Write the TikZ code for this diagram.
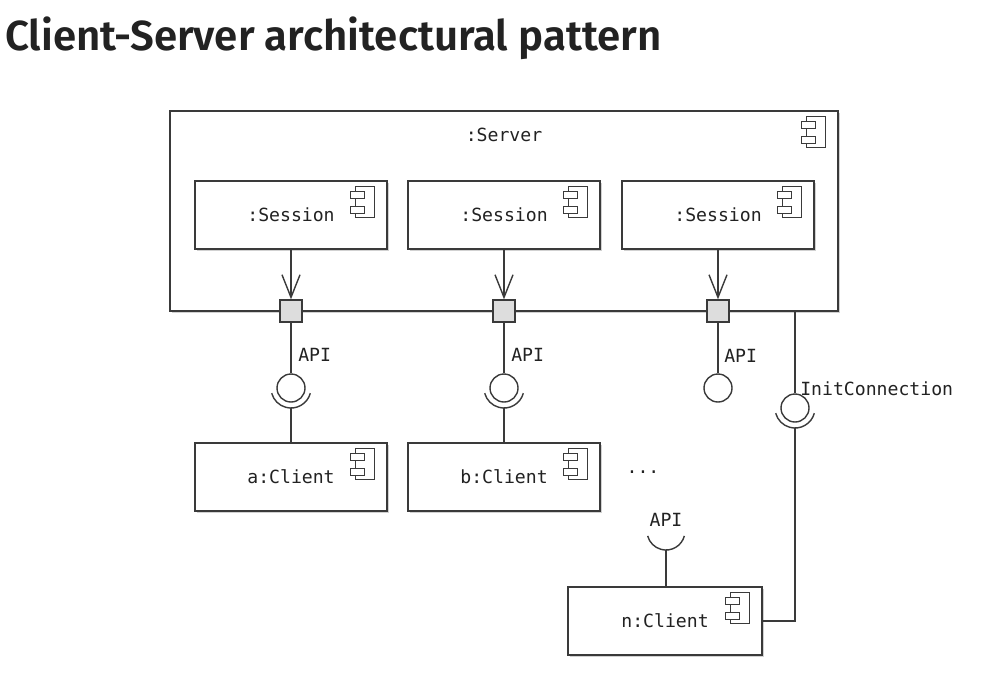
\documentclass[tikz,border=0pt]{standalone}
\usepackage{fontspec}
\usetikzlibrary{arrows.meta,shadows}
\newfontfamily\monofont{DejaVu Sans Mono}
\newfontfamily\titlefont{Fira Sans SemiBold}
\definecolor{linecol}{HTML}{3A3A3A}
\definecolor{txtcol}{HTML}{222222}
\definecolor{portfill}{HTML}{DDDDDD}
\tikzset{
  conn/.style={draw=linecol, line width=1.05pt},
  iconline/.style={draw=linecol, line width=0.8pt},
  comp/.style={draw=linecol, line width=1.05pt, fill=white, minimum width=144pt,
    minimum height=51pt, inner sep=0pt, font=\monofont\fontsize{13.6}{16}\selectfont, text=txtcol,
    general shadow={fill=black!18, shadow xshift=1.3pt, shadow yshift=-1.3pt}},
  frame/.style={draw=linecol, line width=1.05pt, fill=white, minimum width=501pt,
    minimum height=150pt, inner sep=0pt,
    general shadow={fill=black!18, shadow xshift=1.3pt, shadow yshift=-1.3pt}},
  port/.style={draw=linecol, line width=1.05pt, fill=portfill, minimum size=16.5pt, inner sep=0pt},
  ball/.style={circle, draw=linecol, line width=1.05pt, fill=white, minimum size=21pt, inner sep=0pt},
  lbl/.style={font=\monofont\fontsize{13.6}{16}\selectfont, text=txtcol, inner sep=0pt},
  dep/.style={conn, -{Straight Barb[length=17pt, width=13.5pt, line width=1.05pt]}},
  compicon/.pic={
    \draw[iconline, fill=white] (-19,0) rectangle (0,31);
    \draw[iconline, fill=white] (-24,5) rectangle (-10,12);
    \draw[iconline, fill=white] (-24,20) rectangle (-10,27);
  }
}
\begin{document}
\begin{tikzpicture}[x=0.75pt, y=-0.75pt]
\useasboundingbox[fill=white] (0,0) rectangle (1006,694);
% title
\node[anchor=base west, inner sep=0pt, text=txtcol, font=\titlefont\fontsize{31.5}{37}\selectfont] (title) at (5,50) {Client-Server architectural pattern};
% server
\node[frame] (server) at (504,211) {};
\node[lbl] (serverlbl) at (504,135) {:Server};
\pic at ([shift={(-13,6)}]server.north east) {compicon};
% sessions
\node[comp] (s1) at (291,215) {:Session};
\node[comp] (s2) at (504,215) {:Session};
\node[comp] (s3) at (718,215) {:Session};
\foreach \s in {s1,s2,s3} {\pic at ([shift={(-13,6)}]\s.north east) {compicon};}
% ports
\node[port] (p1) at (291,311) {};
\node[port] (p2) at (504,311) {};
\node[port] (p3) at (718,311) {};
\draw[dep] (s1.south) -- (p1.north);
\draw[dep] (s2.south) -- (p2.north);
\draw[dep] (s3.south) -- (p3.north);
% balls
\node[ball] (b1) at (291,388) {};
\node[ball] (b2) at (504,388) {};
\node[ball] (b3) at (718,388) {};
\node[ball] (b4) at (795,408) {};
\draw[conn] (p1.south) -- (b1.north);
\draw[conn] (p2.south) -- (b2.north);
\draw[conn] (p3.south) -- (b3.north);
\coordinate (ictop) at (795,311);
\draw[conn] (ictop) -- (b4.north);
% labels
\node[lbl, anchor=west] (api1) at (298,355) {API};
\node[lbl, anchor=west] (api2) at (511,355) {API};
\node[lbl, anchor=west] (api3) at (724,356) {API};
\node[lbl, anchor=west] (iclbl) at (800,389) {InitConnection};
% sockets
\draw[conn] ([shift={(19.32,5.18)}]b1.center) arc[start angle=15, end angle=165, radius=20];
\draw[conn] ([shift={(19.32,5.18)}]b2.center) arc[start angle=15, end angle=165, radius=20];
\draw[conn] ([shift={(19.32,5.18)}]b4.center) arc[start angle=15, end angle=165, radius=20];
\coordinate (sk1) at (291,408);
\coordinate (sk2) at (504,408);
\coordinate (sk4) at (795,428);
% clients
\node[comp] (c1) at (291,477) {a:Client};
\node[comp] (c2) at (504,477) {b:Client};
\node[comp, minimum width=145.5pt] (cn) at (665,621) {n:Client};
\foreach \s in {c1,c2,cn} {\pic at ([shift={(-13,6)}]\s.north east) {compicon};}
\draw[conn] (sk1) -- (c1.north);
\draw[conn] (sk2) -- (c2.north);
\draw[conn] (sk4) |- (cn.east);
% n client socket
\coordinate (skn) at (666,531);
\draw[conn] ([shift={(18.35,4.92)}]skn) arc[start angle=15, end angle=165, radius=19];
\coordinate (sknb) at (666,550);
\draw[conn] (sknb) -- (sknb |- cn.north);
\node[lbl] (apin) at (666,520) {API};
\node[lbl] (dots) at (643,472) {...};
\end{tikzpicture}
\end{document}
